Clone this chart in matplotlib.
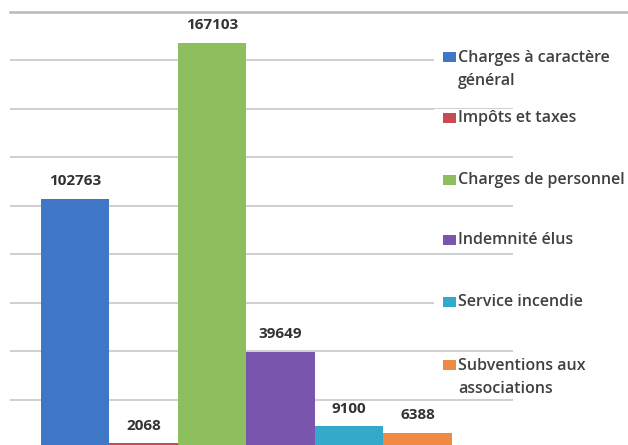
import matplotlib
matplotlib.use("Agg")
import matplotlib.pyplot as plt
from matplotlib.lines import Line2D
from matplotlib.patches import Rectangle

categories = ["Charges à caractère\ngénéral", "Impôts et taxes", "Charges de personnel",
              "Indemnité élus", "Service incendie", "Subventions aux\nassociations"]
values = [102763, 2068, 167103, 39649, 9100, 6388]
colors = ["#3f77c6", "#c94a50", "#8dbf5e", "#7a55ad", "#35a9c9", "#ef8a43"]
grid_ticks = [0, 20000, 40000, 60000, 80000, 100000, 120000, 140000, 160000, 180000]

W, H = 628, 445
fig = plt.figure(figsize=(W / 100, H / 100), dpi=100)
fig.patch.set_facecolor("white")

def fx(px):
    return px / W

def fy(py):
    return 1 - py / H

# axes: x 10..513 px, baseline y=448 px, top gridline y=11.5 px
ax = fig.add_axes([fx(10), fy(448), fx(513) - fx(10), fy(11.5) - fy(448)])
ax.set_facecolor("none")
for s in ax.spines.values():
    s.set_visible(False)
ax.set_xticks([])
ax.set_yticks([])
ax.set_ylim(0, 180000)
ax.set_xlim(-0.945, 6.39)

for t in grid_ticks[1:-1]:
    ax.axhline(t, color="#cfcfcf", lw=1.4, zorder=0)

xs = list(range(len(values)))
bars = ax.bar(xs, values, width=1.0, color=colors, zorder=2)
for x, v in zip(xs, values):
    ax.annotate(f"{v}", (x, v), xytext=(0, 12.5), textcoords="offset points",
                ha="center", va="center", fontsize=11, fontweight="bold",
                family=["Open Sans", "DejaVu Sans"], color="#333333", zorder=3)

# top frame line
fig.add_artist(Line2D([fx(10), 1], [fy(11.5), fy(11.5)], color="#b8b8b8", lw=1.8))

# legend
legend_y = [69.5, 118, 180, 240, 302, 377.5]
for lab, c, yc in zip(categories, colors, legend_y):
    nlines = lab.count("\n") + 1
    half = (nlines - 1) * 12.5
    top_line_y = yc - half
    # white backing behind legend entry (hides gridlines like the original)
    fig.add_artist(Rectangle((fx(434), fy(yc + half + 9)), fx(520) - fx(434),
                             fy(yc - half - 9) - fy(yc + half + 9),
                             transform=fig.transFigure, color="white", lw=0, zorder=5))
    fig.add_artist(Rectangle((fx(443), fy(top_line_y + 5)), fx(456) - fx(443),
                             fy(top_line_y - 5) - fy(top_line_y + 5),
                             transform=fig.transFigure, color=c, lw=0, zorder=6))
    fig.text(fx(458), fy(yc), lab, ha="left", va="center", fontsize=11.5,
             fontweight="semibold", family=["Open Sans", "DejaVu Sans"],
             color="#404040", linespacing=1.6, zorder=7)

fig.savefig("out.png", dpi=100)
